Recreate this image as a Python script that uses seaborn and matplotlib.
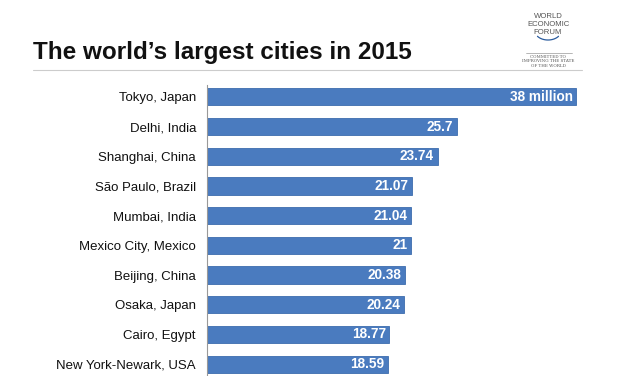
import matplotlib
matplotlib.use("Agg")
import matplotlib.pyplot as plt
import seaborn as sns
import pandas as pd
import numpy as np

cities = ["Tokyo, Japan", "Delhi, India", "Shanghai, China", "São Paulo, Brazil",
          "Mumbai, India", "Mexico City, Mexico", "Beijing, China", "Osaka, Japan",
          "Cairo, Egypt", "New York-Newark, USA"]
population = [38, 25.7, 23.74, 21.07, 21.04, 21, 20.38, 20.24, 18.77, 18.59]
value_labels = ["38 million", "25.7", "23.74", "21.07", "21.04", "21", "20.38",
                "20.24", "18.77", "18.59"]

sns.set_theme(style="white")
plt.rcParams['font.family'] = ['Liberation Sans', 'DejaVu Sans']

df = pd.DataFrame({"city": cities, "pop": population})

fig = plt.figure(figsize=(6.4, 3.76), dpi=100)
ax = fig.add_axes([207/640, 0, 433/640, 291/376])
sns.barplot(data=df, x="pop", y="city", color="#4a7bbf", saturation=1,
            width=0.58, ax=ax, edgecolor="#3d6cae", linewidth=0.6)

ax.set_xlim(0, 433/9.71)
ax.set_ylim(9.4, -0.4)
ax.set_xlabel("")
ax.set_ylabel("")
ax.set_xticks([])
for s in ["top", "right", "bottom"]:
    ax.spines[s].set_visible(False)
ax.spines["left"].set_color("#999999")
ax.spines["left"].set_linewidth(0.8)
ax.tick_params(axis="y", length=0, pad=8, labelsize=9.5, labelcolor="#111111")

for i, (v, lab) in enumerate(zip(population, value_labels)):
    ax.text(v - 0.35, i, lab, ha="right", va="center", color="white",
            fontsize=9.8, fontweight="bold")

# Title
fig.text(33/640, 1 - 52/376, "The world’s largest cities in 2015", ha="left",
         va="center", fontsize=17.5, fontweight="bold", color="#111111")
fig.add_artist(plt.Line2D([33/640, 582/640], [1 - 70/376, 1 - 70/376],
                          color="#cccccc", linewidth=0.8))

# Logo
for j, t in enumerate(["WORLD", "ECONOMIC", "FORUM"]):
    fig.text(548/640, 1 - (17 + j * 7.5)/376, t, ha="center", va="center",
             fontsize=5.6, color="#555555")
theta = np.linspace(np.pi * 1.2, np.pi * 1.8, 40)
xs = 548 + 13 * np.cos(theta)
ys = 31 - 9 * np.sin(theta)
fig.add_artist(plt.Line2D(xs / 640, 1 - ys / 376, color="#2b5c9e", linewidth=0.9))
fig.add_artist(plt.Line2D([526/640, 572/640], [1 - 52.5/376, 1 - 52.5/376],
                          color="#999999", linewidth=0.5))
for j, t in enumerate(["COMMITTED TO", "IMPROVING THE STATE", "OF THE WORLD"]):
    fig.text(548/640, 1 - (57 + j * 4.3)/376, t, ha="center", va="center",
             fontsize=3.0, color="#555555", family=["DejaVu Serif"])

fig.savefig("out.png", dpi=100)
